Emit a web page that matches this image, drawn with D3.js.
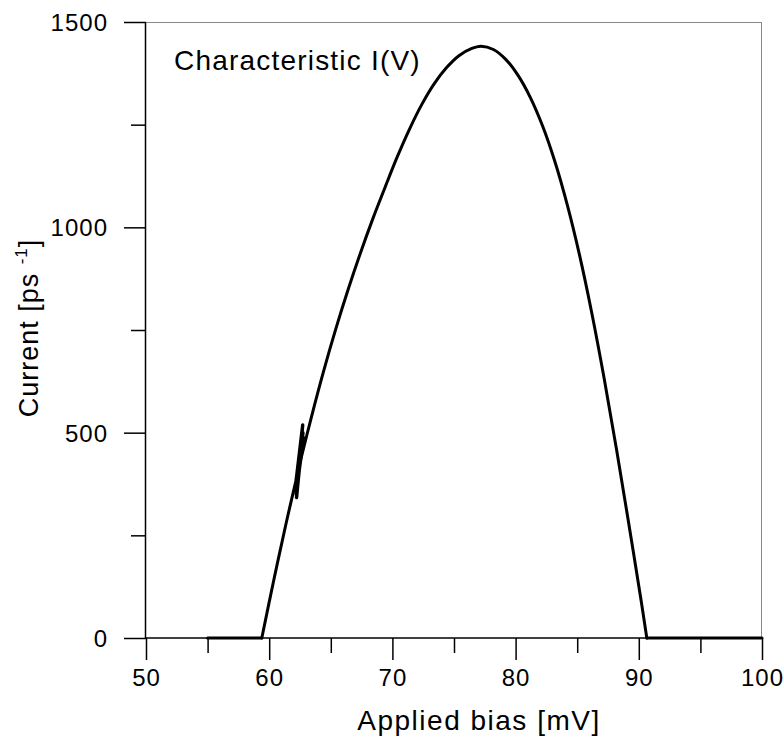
<!DOCTYPE html>
<html>
<head>
<meta charset="utf-8">
<script src="https://cdn.jsdelivr.net/npm/d3@7/dist/d3.min.js"></script>
<style>
  html, body { margin: 0; padding: 0; background: #fff; }
  svg { display: block; }
  text { font-family: "Liberation Sans", Arial, Helvetica, sans-serif; fill: #000; }
</style>
</head>
<body>
<svg id="chart" width="783" height="740"></svg>
<script>
// ---- data ----
const biasMv = [
  55, 59.4, 60.4, 61.4, 62.2,
  62.72, 62.22, 62.74, 62.18, 62.78, 62.2, 62.74, 62.26, 62.7, 62.24, 62.66, 62.3,
  62.68, 62.28, 62.62, 62.34, 62.6, 62.38, 62.58, 62.45, 62.55,
  63.4, 64.4, 65.4, 66.4, 67.4, 68.4, 69.4, 70.4, 71.4, 72.4, 73.4, 74.4, 75.4, 76.4,
  77.2, 78.2, 79.2, 80.2, 81.2, 82.2, 83.2, 84.2, 85.2, 86.2, 87.2, 88.2, 89.2, 90.2,
  90.65, 100
];
const currentPs = [
  0, 0, 145, 283, 387,
  519, 342, 500, 350, 488, 358, 480, 366, 474, 372, 466, 380,
  470, 376, 458, 392, 452, 400, 446, 412, 433,
  535, 648, 752, 848, 937, 1020, 1097, 1172, 1240, 1300, 1350, 1389, 1418, 1435,
  1441, 1433, 1409, 1370, 1316, 1246, 1159, 1054, 931, 789, 630, 458, 276, 89,
  0, 0
];
const xMajorTicks = [50, 60, 70, 80, 90, 100];
const xMinorTicks = [55, 65, 75, 85, 95];
const yMajorTicks = [0, 500, 1000, 1500];
const yMinorTicks = [250, 750, 1250];
const titleText = "Characteristic I(V)";
const xTitle = "Applied bias [mV]";

// ---- layout ----
const svg = d3.select("#chart");
const mLeft = 146, mRight = 762, mTop = 22, mBottom = 638;
const x = d3.scaleLinear().domain([50, 100]).range([mLeft, mRight]);
const y = d3.scaleLinear().domain([0, 1500]).range([mBottom, mTop]);

// frame (top & right thin gray)
svg.append("line").attr("x1", mLeft).attr("x2", mRight).attr("y1", mTop + 0.5).attr("y2", mTop + 0.5)
  .attr("stroke", "#8a8a8a").attr("stroke-width", 1);
svg.append("line").attr("x1", mRight - 0.5).attr("x2", mRight - 0.5).attr("y1", mTop).attr("y2", mBottom)
  .attr("stroke", "#8a8a8a").attr("stroke-width", 1);

// x axis
const xAxis = d3.axisBottom(x).tickValues(xMajorTicks).tickSize(22).tickPadding(9).tickFormat(d3.format("d"));
const gx = svg.append("g").attr("transform", `translate(0,${mBottom})`).call(xAxis);
gx.select(".domain").remove();
gx.selectAll(".tick line").attr("stroke", "#000").attr("stroke-width", 1.5);
gx.selectAll(".tick text").attr("font-size", 24).attr("font-family", "Liberation Sans, Arial, sans-serif")
  .attr("fill", "#000").attr("letter-spacing", 1);
const xMinor = d3.axisBottom(x).tickValues(xMinorTicks).tickSize(15).tickFormat("");
const gxm = svg.append("g").attr("transform", `translate(0,${mBottom})`).call(xMinor);
gxm.select(".domain").remove();
gxm.selectAll(".tick line").attr("stroke", "#000").attr("stroke-width", 1.5);

// y axis
const yAxis = d3.axisLeft(y).tickValues(yMajorTicks).tickSize(22).tickPadding(16).tickFormat(d3.format("d"));
const gy = svg.append("g").attr("transform", `translate(${mLeft},0)`).call(yAxis);
gy.select(".domain").remove();
gy.selectAll(".tick line").attr("stroke", "#000").attr("stroke-width", 1.5);
gy.selectAll(".tick text").attr("font-size", 24).attr("font-family", "Liberation Sans, Arial, sans-serif")
  .attr("fill", "#000").attr("dy", "0.36em").attr("letter-spacing", 1);
const yMinor = d3.axisLeft(y).tickValues(yMinorTicks).tickSize(15).tickFormat("");
const gym = svg.append("g").attr("transform", `translate(${mLeft},0)`).call(yMinor);
gym.select(".domain").remove();
gym.selectAll(".tick line").attr("stroke", "#000").attr("stroke-width", 1.5);

// main axis lines
svg.append("line").attr("x1", mLeft - 0.5).attr("x2", mLeft - 0.5).attr("y1", mTop).attr("y2", mBottom)
  .attr("stroke", "#000").attr("stroke-width", 1.5);
svg.append("line").attr("x1", mLeft).attr("x2", mRight).attr("y1", mBottom).attr("y2", mBottom)
  .attr("stroke", "#000").attr("stroke-width", 1.5);

// curve: smooth parts with Catmull-Rom, sharp corners / oscillation linear
const pts = biasMv.map((v, i) => [v, currentPs[i]]);
const iOnset = biasMv.indexOf(59.4);
const iOscStart = biasMv.indexOf(62.2);
const iOscEnd = biasMv.indexOf(62.55);
const iOff = biasMv.indexOf(90.65);
const segs = [
  [0, iOnset, d3.curveLinear, 3],
  [iOnset, iOscStart, d3.curveCatmullRom.alpha(0.5), 3],
  [iOscStart, iOscEnd, d3.curveLinear, 3.4],
  [iOscEnd, iOff, d3.curveCatmullRom.alpha(0.5), 3],
  [iOff, biasMv.length - 1, d3.curveLinear, 3]
];
segs.forEach(([a, b, c, w]) => {
  const ln = d3.line().x(d => x(d[0])).y(d => y(d[1])).curve(c);
  svg.append("path").datum(pts.slice(a, b + 1)).attr("d", ln)
    .attr("fill", "none").attr("stroke", "#000").attr("stroke-width", w)
    .attr("stroke-linejoin", "round").attr("stroke-linecap", "round");
});

// inner title
svg.append("text").attr("x", 174).attr("y", 70).attr("font-size", 28)
  .attr("letter-spacing", 1.2).text(titleText);

// x title
svg.append("text").attr("x", 479).attr("y", 730).attr("text-anchor", "middle")
  .attr("font-size", 28).attr("letter-spacing", 1.5).text(xTitle);

// y title with superscript
const yt = svg.append("text").attr("transform", "translate(38,328) rotate(-90)")
  .attr("text-anchor", "middle").attr("font-size", 27).attr("letter-spacing", 1);
yt.append("tspan").text("Current [ps ");
yt.append("tspan").attr("font-size", 17).attr("dy", -11).text("-1");
yt.append("tspan").attr("dy", 11).text("]");
</script>
</body>
</html>
